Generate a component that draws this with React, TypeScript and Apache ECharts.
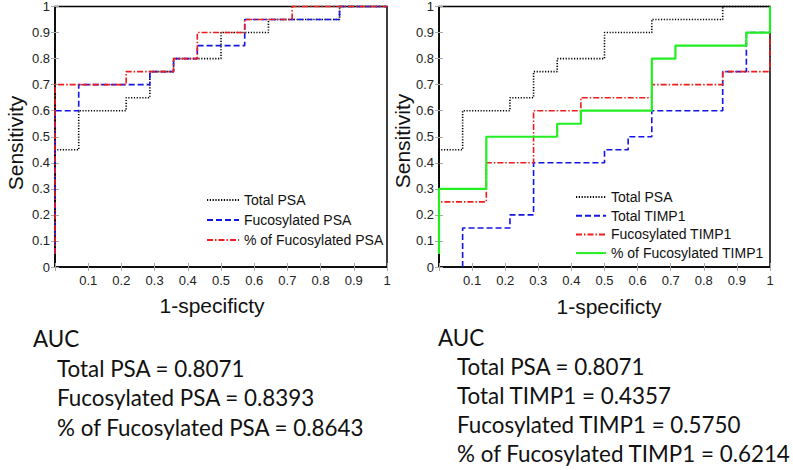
import React, { useEffect, useRef } from "react";
import * as echarts from "echarts";

// ROC curve vertices [1-specificity, sensitivity]
const totalPsaRoc = [
  [0, 0.05], [0, 0.45], [0.0714, 0.45], [0.0714, 0.6], [0.2143, 0.6], [0.2143, 0.65],
  [0.2857, 0.65], [0.2857, 0.75], [0.3571, 0.75], [0.3571, 0.8], [0.5, 0.8], [0.5, 0.9],
  [0.6429, 0.9], [0.6429, 0.95], [0.8571, 0.95], [0.8571, 1], [1, 1],
];
const fucoPsaRoc = [
  [0, 0.05], [0, 0.6], [0.0714, 0.6], [0.0714, 0.7], [0.2857, 0.7], [0.2857, 0.75],
  [0.3571, 0.75], [0.3571, 0.8], [0.4286, 0.8], [0.4286, 0.85], [0.5714, 0.85],
  [0.5714, 0.95], [0.8571, 0.95], [0.8571, 1], [1, 1],
];
const pctFucoPsaRoc = [
  [0, 0.05], [0, 0.7], [0.2143, 0.7], [0.2143, 0.75], [0.3571, 0.75], [0.3571, 0.8],
  [0.4286, 0.8], [0.4286, 0.9], [0.5714, 0.9], [0.5714, 0.95], [0.7143, 0.95],
  [0.7143, 1], [1, 1],
];
const totalTimp1Roc = [
  [0.0714, 0], [0.0714, 0.15], [0.2143, 0.15], [0.2143, 0.2], [0.2857, 0.2], [0.2857, 0.4],
  [0.5, 0.4], [0.5, 0.45], [0.5714, 0.45], [0.5714, 0.5], [0.6429, 0.5], [0.6429, 0.6],
  [0.8571, 0.6], [0.8571, 0.75], [0.9286, 0.75], [0.9286, 0.9], [1, 0.9], [1, 1],
];
const fucoTimp1Roc = [
  [0, 0.05], [0, 0.25], [0.1429, 0.25], [0.1429, 0.4], [0.2857, 0.4], [0.2857, 0.6],
  [0.4286, 0.6], [0.4286, 0.65], [0.6429, 0.65], [0.6429, 0.7], [0.8571, 0.7],
  [0.8571, 0.75], [1, 0.75], [1, 1],
];
const pctFucoTimp1Roc = [
  [0, 0.05], [0, 0.3], [0.1429, 0.3], [0.1429, 0.5], [0.3571, 0.5], [0.3571, 0.55],
  [0.4286, 0.55], [0.4286, 0.6], [0.6429, 0.6], [0.6429, 0.8], [0.7143, 0.8],
  [0.7143, 0.85], [0.9286, 0.85], [0.9286, 0.9], [1, 0.9], [1, 1],
];

const leftLegend = ["Total PSA", "Fucosylated PSA", "% of Fucosylated PSA"];
const rightLegend = ["Total PSA", "Total TIMP1", "Fucosylated TIMP1", "% of Fucosylated TIMP1"];

const leftAuc = ["Total PSA = 0.8071", "Fucosylated PSA = 0.8393", "% of Fucosylated PSA = 0.8643"];
const rightAuc = [
  "Total PSA = 0.8071",
  "Total TIMP1 = 0.4357",
  "Fucosylated TIMP1 = 0.5750",
  "% of Fucosylated TIMP1 = 0.6214",
];

const xAxisName = "1-specificty";
const yAxisName = "Sensitivity";

const AX_FONT = "'Liberation Sans', Arial, sans-serif";
const TXT_FONT = "Lato, 'Noto Sans', sans-serif";

const styles: Record<string, any> = {
  black: { color: "#000000", width: 1.6, type: [1.2, 1.6] },
  blue: { color: "#1414e6", width: 1.6, type: [6, 3] },
  red: { color: "#ee1c1c", width: 1.6, type: [6, 2, 1.5, 2] },
  green: { color: "#22ee22", width: 2.2, type: "solid" },
};

function fmt(v: number) {
  if (Math.abs(v) < 1e-9) return "";
  return String(+v.toFixed(1));
}

export default function App() {
  const ref = useRef<HTMLDivElement>(null);

  useEffect(() => {
    if (!ref.current) return;
    const chart = echarts.init(ref.current, undefined, { renderer: "svg" });

    const grids = [
      { left: 55, top: 6, width: 332, height: 261 },
      { left: 439, top: 6, width: 331, height: 261 },
    ];

    const xAxes: any[] = [];
    const yAxes: any[] = [];
    grids.forEach((_, gi) => {
      xAxes.push({
        type: "value",
        gridIndex: gi,
        min: 0,
        max: 1,
        interval: 0.1,
        axisLine: { show: true, onZero: false, lineStyle: { color: "#000", width: 1.5 } },
        axisTick: { show: true, inside: true, length: 4, lineStyle: { color: "#aaa" } },
        axisLabel: { formatter: fmt, fontSize: 13, color: "#222", margin: 7, fontFamily: AX_FONT, hideOverlap: false },
        splitLine: { show: false },
      });
      xAxes.push({
        type: "value",
        gridIndex: gi,
        position: "top",
        min: 0,
        max: 1,
        interval: 0.1,
        axisLine: { show: false },
        axisTick: { show: true, inside: true, length: 4, lineStyle: { color: "#aaa" } },
        axisLabel: { show: false },
        splitLine: { show: false },
      });
      yAxes.push({
        type: "value",
        gridIndex: gi,
        min: 0,
        max: 1,
        interval: 0.1,
        axisLine: { show: true, onZero: false, lineStyle: { color: "#000", width: 1.5 } },
        axisTick: { show: true, inside: true, length: 4, lineStyle: { color: "#aaa" } },
        axisLabel: {
          formatter: (v: number) => String(+v.toFixed(1)),
          fontSize: 13,
          color: "#222",
          margin: 5,
          fontFamily: AX_FONT,
        },
        splitLine: { show: false },
      });
      yAxes.push({
        type: "value",
        gridIndex: gi,
        position: "right",
        min: 0,
        max: 1,
        interval: 0.1,
        axisLine: { show: false },
        axisTick: { show: true, inside: true, length: 4, lineStyle: { color: "#aaa" } },
        axisLabel: { show: false },
        splitLine: { show: false },
      });
    });

    const mk = (name: string, data: number[][], st: any, gi: number, z: number) => ({
      type: "line",
      name,
      data,
      xAxisIndex: gi * 2,
      yAxisIndex: gi * 2,
      showSymbol: false,
      symbol: "none",
      clip: false,
      color: st.color,
      lineStyle: { color: st.color, width: st.width, type: st.type },
      z,
      silent: true,
    });

    const series = [
      mk(leftLegend[0], totalPsaRoc, styles.black, 0, 2),
      mk(leftLegend[1], fucoPsaRoc, styles.blue, 0, 3),
      mk(leftLegend[2], pctFucoPsaRoc, styles.red, 0, 4),
      mk(rightLegend[0], totalPsaRoc, styles.black, 1, 2),
      mk(rightLegend[1], totalTimp1Roc, styles.blue, 1, 3),
      mk(rightLegend[2], fucoTimp1Roc, styles.red, 1, 4),
      mk(rightLegend[3], pctFucoTimp1Roc, styles.green, 1, 5),
    ];

    const legendText = { fontSize: 14, color: "#111", fontFamily: AX_FONT };

    const graphic: any[] = [];
    const axisNameStyle = { fontSize: 21, fill: "#111", fontFamily: AX_FONT };
    [
      [212, 305],
      [609, 306],
    ].forEach(([x, y]) =>
      graphic.push({
        type: "text",
        x,
        y,
        style: { ...axisNameStyle, text: xAxisName, align: "center", verticalAlign: "middle" },
      })
    );
    [
      [15, 143],
      [402, 141],
    ].forEach(([x, y]) =>
      graphic.push({
        type: "text",
        x,
        y,
        rotation: Math.PI / 2,
        style: { ...axisNameStyle, text: yAxisName, align: "center", verticalAlign: "middle" },
      })
    );

    const aucStyle = { fontSize: 22.4, fill: "#111", fontFamily: TXT_FONT, verticalAlign: "middle" };
    graphic.push({ type: "text", x: 33, y: 338, style: { ...aucStyle, text: "AUC" } });
    leftAuc.forEach((t, i) =>
      graphic.push({ type: "text", x: 57, y: 368 + i * 29.5, style: { ...aucStyle, text: t } })
    );
    graphic.push({ type: "text", x: 438, y: 337, style: { ...aucStyle, text: "AUC" } });
    rightAuc.forEach((t, i) =>
      graphic.push({ type: "text", x: 457, y: 366 + i * 29.3, style: { ...aucStyle, text: t } })
    );

    const legendCommon = {
      orient: "vertical",
      textStyle: legendText,
      selectedMode: false,
      padding: 0,
      itemStyle: { opacity: 0 },
    };

    chart.setOption({
      animation: false,
      backgroundColor: "#ffffff",
      grid: grids.map((g) => ({
        ...g,
        show: true,
        borderColor: "#000",
        borderWidth: 1.5,
        backgroundColor: "transparent",
        containLabel: false,
      })),
      xAxis: xAxes,
      yAxis: yAxes,
      legend: [
        {
          ...legendCommon,
          data: leftLegend,
          left: 206,
          top: 193,
          itemWidth: 32,
          itemHeight: 14,
          itemGap: 6,
        },
        {
          ...legendCommon,
          data: rightLegend,
          left: 575,
          top: 190,
          itemWidth: 30,
          itemHeight: 12,
          itemGap: 4.7,
        },
      ],
      series,
      graphic,
    });

    return () => chart.dispose();
  }, []);

  return (
    <div
      ref={ref}
      style={{ position: "fixed", left: 0, top: 0, width: 793, height: 470, background: "#fff" }}
    />
  );
}
